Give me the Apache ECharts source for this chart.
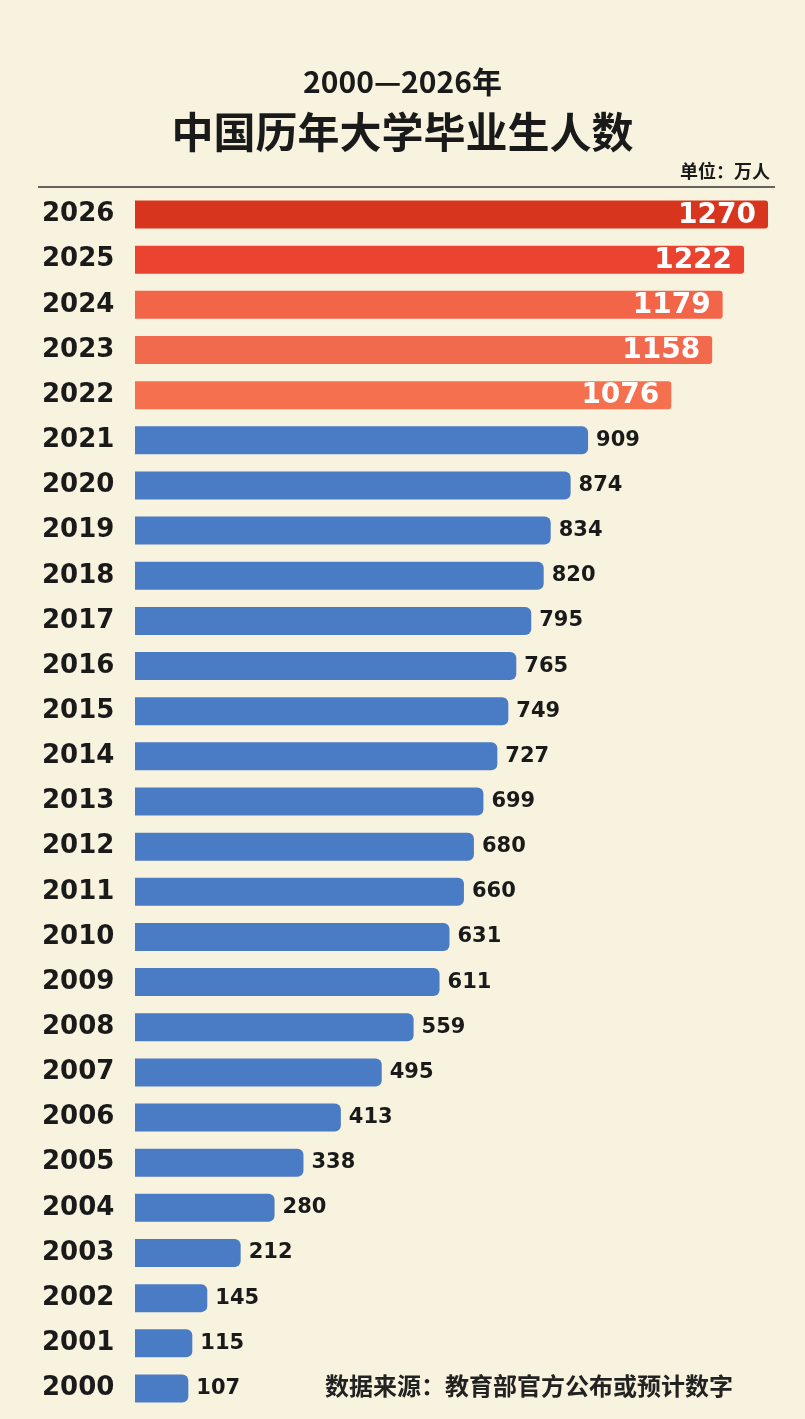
<!DOCTYPE html>
<html><head><meta charset="utf-8">
<script src="https://cdn.jsdelivr.net/npm/echarts@6/dist/echarts.min.js"></script>
<style>html,body{margin:0;padding:0;background:#f8f3df}#c{width:805px;height:1419px}</style>
</head><body><div id="c"></div>
<script>
var years = ['2000','2001','2002','2003','2004','2005','2006','2007','2008','2009','2010','2011','2012','2013','2014','2015','2016','2017','2018','2019','2020','2021','2022','2023','2024','2025','2026'];
var grads = [107,115,145,212,280,338,413,495,559,611,631,660,680,699,727,749,765,795,820,834,874,909,1076,1158,1179,1222,1270];
var redColors = {'2026':'#d8351f','2025':'#ea4430','2024':'#f26549','2023':'#f26a4e','2022':'#f4704f'};

var myChart = echarts.init(document.getElementById('c'));
var barData = grads.map(function (v, i) {
    var y = years[i];
    if (redColors[y]) {
        return {
            value: v,
            itemStyle: { color: redColors[y], borderRadius: [0, 3, 3, 0] },
            label: { position: 'insideRight', color: '#fff', fontSize: 28, fontWeight: 'bold', offset: [-4, 1] }
        };
    }
    return v;
});
var option = {
    backgroundColor: '#f8f3df',
    title: [{
        text: '2000—2026年',
        left: 'center', top: 62,
        textStyle: { color: '#1a1a1a', fontSize: 30, fontWeight: 'bold', fontFamily: 'Noto Sans CJK SC' }
    }, {
        text: '中国历年大学毕业生人数',
        left: 'center', top: 106,
        textStyle: { color: '#1a1a1a', fontSize: 42, fontWeight: 'bold', fontFamily: 'Noto Sans CJK SC' }
    }, {
        text: '单位：万人',
        right: 30, top: 157,
        textStyle: { color: '#1a1a1a', fontSize: 18, fontWeight: 'bold', fontFamily: 'Noto Sans CJK SC' }
    }, {
        text: '数据来源：教育部官方公布或预计数字',
        left: 320, top: 1369,
        textStyle: { color: '#222', fontSize: 24, fontWeight: 'bold', fontFamily: 'Noto Sans CJK SC' }
    }],
    graphic: [{
        type: 'line',
        shape: { x1: 38, y1: 187, x2: 775, y2: 187 },
        style: { stroke: '#333', lineWidth: 1.5 }
    }],
    grid: { left: 135, right: 37, top: 192, bottom: 8 },
    xAxis: { type: 'value', min: 0, max: 1270, show: false },
    yAxis: {
        type: 'category',
        data: years,
        axisLine: { show: false },
        axisTick: { show: false },
        axisLabel: {
            align: 'left', margin: 93,
            color: '#1a1a1a', fontSize: 26, fontWeight: 'bold', fontFamily: 'DejaVu Sans'
        }
    },
    series: [{
        type: 'bar',
        data: barData,
        barWidth: 28,
        itemStyle: { color: '#4a7cc6', borderRadius: [0, 6, 6, 0] },
        label: {
            show: true, position: 'right', distance: 8,
            color: '#1a1a1a', fontSize: 21, fontWeight: 'bold', fontFamily: 'DejaVu Sans'
        }
    }]
};
myChart.setOption(option);
</script>
</body></html>
